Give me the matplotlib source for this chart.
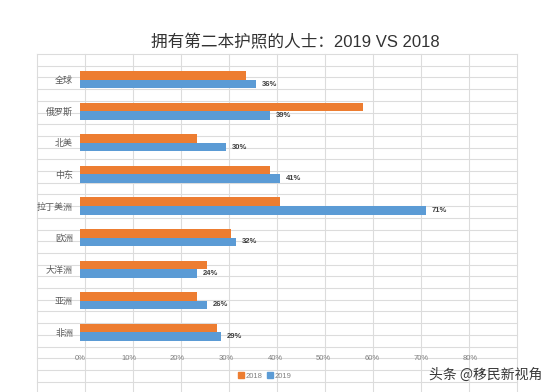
import matplotlib

matplotlib.use("Agg")
import matplotlib.pyplot as plt
import numpy as np
from matplotlib.patches import Patch

plt.rcParams["font.family"] = ["Liberation Sans", "Noto Sans CJK SC", "DejaVu Sans"]

ORANGE, BLUE = "#ED7D31", "#5B9BD5"
CELL = "#dcdcdc"

regions = ["全球", "俄罗斯", "北美", "中东", "拉丁美洲", "欧洲", "大洋洲", "亚洲", "非洲"]
share_2018 = [34, 58, 24, 39, 41, 31, 26, 24, 28]
share_2019 = [36, 39, 30, 41, 71, 32, 24, 26, 29]
x_ticks = [0, 10, 20, 30, 40, 50, 60, 70, 80]

W, H = 554, 392
fig = plt.figure(figsize=(W / 100, H / 100), dpi=100)

# spreadsheet cells behind the chart
bg = fig.add_axes([0, 0, 1, 1], zorder=0)
bg.set_xlim(0, W)
bg.set_ylim(H, 0)
bg.axis("off")
for xc in np.arange(37, 520, 48):
    bg.plot([xc, xc], [54, H], color=CELL, lw=0.8)
for yr in np.arange(54, H, 11.7):
    bg.plot([37, 517], [yr, yr], color=CELL, lw=0.8)

ax = fig.add_axes([80 / W, 1 - 348 / H, 390 / W, 284 / H], zorder=1)
ax.patch.set_alpha(0)
y = np.arange(len(regions))
h = 0.27
ax.barh(y - h / 2, share_2018, height=h, color=ORANGE, label="2018")
ax.barh(y + h / 2, share_2019, height=h, color=BLUE, label="2019")
for yi, v in zip(y, share_2019):
    ax.text(v + 1.2, yi + h / 2, f"{v}%", va="center", ha="left",
            fontsize=5.5, color="#404040", weight="bold")

ax.set_xlim(0, 80)
ax.set_ylim(len(regions) - 0.5, -0.5)
ax.set_xticks(x_ticks)
ax.set_xticklabels([f"{t}%" for t in x_ticks], fontsize=5.5, color="#808080")
ax.set_yticks(y)
ax.set_yticklabels(regions, fontsize=6.5, color="#595959",
                   family=["Noto Sans CJK SC", "DejaVu Sans"])
ax.tick_params(length=0, pad=5)
for s in ax.spines.values():
    s.set_visible(False)

fig.text(295 / W, 1 - 42 / H, "拥有第二本护照的人士：2019 VS 2018",
         ha="center", va="center", fontsize=12, color="#333333")

handles = [Patch(color=ORANGE, label="2018"), Patch(color=BLUE, label="2019")]
fig.legend(handles=handles, loc="center", bbox_to_anchor=(265 / W, 1 - 376 / H),
           ncol=2, frameon=False, fontsize=5.5, handlelength=0.7, handleheight=0.7,
           handletextpad=0.3, columnspacing=0.6, labelcolor="#808080")

fig.text(486 / W, 1 - 375 / H, "头条 @移民新视角", ha="center", va="center",
         fontsize=10, color="#3a3a3a", family=["Noto Sans CJK SC", "DejaVu Sans"])

fig.savefig("out.png", dpi=100)
